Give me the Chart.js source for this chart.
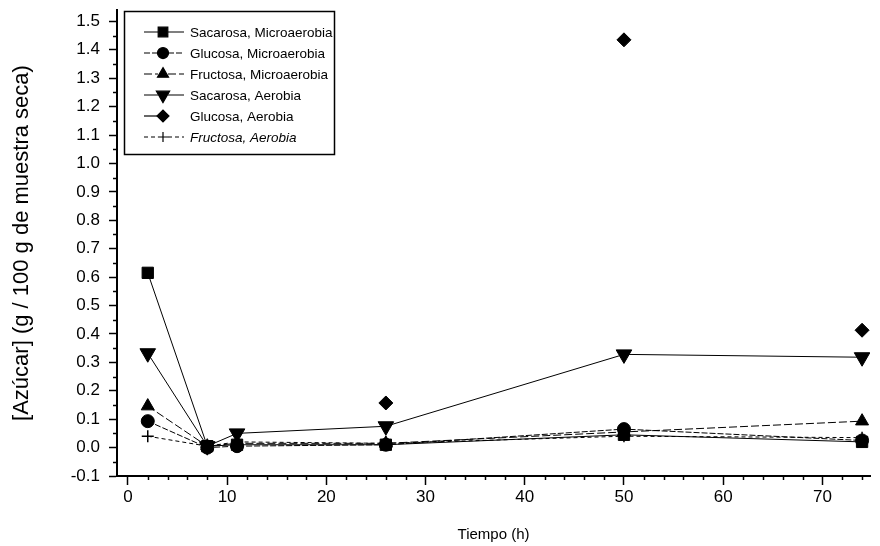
<!DOCTYPE html>
<html>
<head>
<meta charset="utf-8">
<script src="https://cdn.jsdelivr.net/npm/chart.js@4"></script>
<style>
  html, body { margin: 0; padding: 0; background: #fff; }
  #wrap { width: 880px; height: 546px; position: relative; }
</style>
</head>
<body>
<div id="wrap"><canvas id="c" width="880" height="546"></canvas></div>
<script>
// ---- Data ----
const tiempos = [2, 8, 11, 26, 50, 74];
const sacarosaMicro = [0.615, 0.005, 0.01, 0.01, 0.045, 0.02];
const glucosaMicro = [0.093, 0.0, 0.005, 0.01, 0.065, 0.025];
const fructosaMicro = [0.146, 0.005, 0.015, 0.015, 0.055, 0.093];
const sacarosaAer = [0.332, 0.005, 0.05, 0.075, 0.328, 0.318];
const glucosaAerTiempos = [26, 50, 74];
const glucosaAer = [0.157, 1.435, 0.413];
const fructosaAer = [0.04, 0.005, 0.02, 0.015, 0.04, 0.035];

const seriesNames = [
  'Sacarosa, Microaerobia', 'Glucosa, Microaerobia', 'Fructosa, Microaerobia',
  'Sacarosa, Aerobia', 'Glucosa, Aerobia', 'Fructosa, Aerobia'
];
const xTickValues = [0, 10, 20, 30, 40, 50, 60, 70];
const yTickValues = [-0.1, 0.0, 0.1, 0.2, 0.3, 0.4, 0.5, 0.6, 0.7, 0.8, 0.9, 1.0, 1.1, 1.2, 1.3, 1.4, 1.5];
const xTitle = 'Tiempo (h)';
const yTitle = '[Azúcar] (g / 100 g de muestra seca)';

const pts = (xs, ys) => xs.map((x, i) => ({ x: x, y: ys[i] }));

const FONT = '"Liberation Sans", Arial, Helvetica, sans-serif';

function ds(label, data, style, radius, extra) {
  return Object.assign({
    label: label,
    data: data,
    showLine: true,
    borderColor: '#000',
    backgroundColor: '#000',
    borderWidth: 1,
    pointStyle: style,
    pointRadius: radius,
    pointHoverRadius: radius,
    pointBackgroundColor: '#000',
    pointBorderColor: '#000',
    pointBorderWidth: 1,
    tension: 0
  }, extra || {});
}

const datasets = [
  ds(seriesNames[0], pts(tiempos, sacarosaMicro), 'rect', 8),
  ds(seriesNames[1], pts(tiempos, glucosaMicro), 'circle', 6.5, { borderDash: [6, 2] }),
  ds(seriesNames[2], pts(tiempos, fructosaMicro), 'triangle', 7.5, { borderDash: [8, 3] }),
  ds(seriesNames[3], pts(tiempos, sacarosaAer), 'triangle', 9, { pointRotation: 180 }),
  ds(seriesNames[4], pts(glucosaAerTiempos, glucosaAer), 'rectRot', 7, { showLine: false }),
  ds(seriesNames[5], pts(tiempos, fructosaAer), 'cross', 6, { borderDash: [4, 3], pointBorderWidth: 1.5 })
];

// Minor ticks + framed legend drawn through the chart's own scales
const extrasPlugin = {
  id: 'extras',
  afterDraw(chart) {
    const ctx = chart.ctx;
    const xs = chart.scales.x, ys = chart.scales.y;
    const area = chart.chartArea;
    ctx.save();
    ctx.strokeStyle = '#000';
    ctx.lineWidth = 1.5;
    // minor x ticks every 2 h
    for (let v = 0; v <= xs.max; v += 2) {
      if (v % 10 === 0) continue;
      const px = Math.round(xs.getPixelForValue(v)) + 0.5;
      ctx.beginPath(); ctx.moveTo(px, area.bottom); ctx.lineTo(px, area.bottom + 4); ctx.stroke();
    }
    // minor y ticks every 0.05
    for (let k = -1; k <= 15; k++) {
      const v = k / 10 + 0.05;
      if (v > ys.max) break;
      const py = Math.round(ys.getPixelForValue(v)) + 0.5;
      ctx.beginPath(); ctx.moveTo(area.left - 4, py); ctx.lineTo(area.left, py); ctx.stroke();
    }
    // legend box
    const bx = 124, by = 11, bw = 210, bh = 143;
    ctx.lineWidth = 1.5;
    ctx.strokeRect(bx + 0.5, by + 0.5, bw, bh);
    const rowY0 = 32, rowDy = 21;
    chart.data.datasets.forEach((d, i) => {
      const y = rowY0 + i * rowDy;
      ctx.lineWidth = 1.2;
      ctx.setLineDash(d.borderDash || []);
      ctx.beginPath();
      ctx.moveTo(144, y); ctx.lineTo(158, y);
      if (i !== 4) { ctx.moveTo(168, y); ctx.lineTo(184, y); }
      ctx.stroke();
      ctx.setLineDash([]);
      ctx.fillStyle = '#000';
      Chart.helpers.drawPoint(ctx, {
        pointStyle: d.pointStyle,
        rotation: d.pointRotation || 0,
        radius: d.pointRadius * 0.85,
        borderWidth: d.pointBorderWidth || 1
      }, 163, y);
      ctx.font = (i === 5 ? 'italic ' : '') + '13.5px ' + FONT;
      ctx.textBaseline = 'middle';
      ctx.textAlign = 'left';
      ctx.fillText(d.label, 190, y + 1);
    });
    ctx.restore();
  }
};

new Chart(document.getElementById('c'), {
  type: 'scatter',
  data: { datasets: datasets },
  plugins: [extrasPlugin],
  options: {
    responsive: false,
    animation: false,
    devicePixelRatio: 1,
    layout: { padding: { top: 8, right: 5, left: 0, bottom: 0 } },
    plugins: { legend: { display: false }, tooltip: { enabled: false } },
    scales: {
      x: {
        type: 'linear',
        min: -1.1,
        max: 74.8,
        afterBuildTicks: (s) => { s.ticks = xTickValues.map(v => ({ value: v })); },
        afterFit: (s) => { s.height = 70; s.paddingLeft = 0; s.paddingRight = 0; },
        border: { display: true, color: '#000', width: 2 },
        grid: { drawOnChartArea: false, drawTicks: true, tickLength: 9, tickWidth: 1.5, tickColor: '#000' },
        ticks: { color: '#000', font: { family: FONT, size: 17 }, padding: 2, maxRotation: 0,
                 callback: (v) => String(v) },
        title: { display: true, text: xTitle, color: '#000', font: { family: FONT, size: 15 }, padding: { top: 10, bottom: 2 } }
      },
      y: {
        type: 'linear',
        min: -0.1,
        max: 1.54,
        afterBuildTicks: (s) => { s.ticks = yTickValues.map(v => ({ value: v })); },
        afterFit: (s) => { s.width = 117; s.paddingTop = 0; s.paddingBottom = 0; },
        border: { display: true, color: '#000', width: 2 },
        grid: { drawOnChartArea: false, drawTicks: true, tickLength: 8, tickWidth: 1.5, tickColor: '#000' },
        ticks: { color: '#000', font: { family: FONT, size: 17 }, padding: 9,
                 callback: (v) => Number(v).toFixed(1) },
        title: { display: true, text: yTitle, color: '#000', font: { family: FONT, size: 22 }, padding: { top: 9, bottom: 0 } }
      }
    }
  }
});
</script>
</body>
</html>
